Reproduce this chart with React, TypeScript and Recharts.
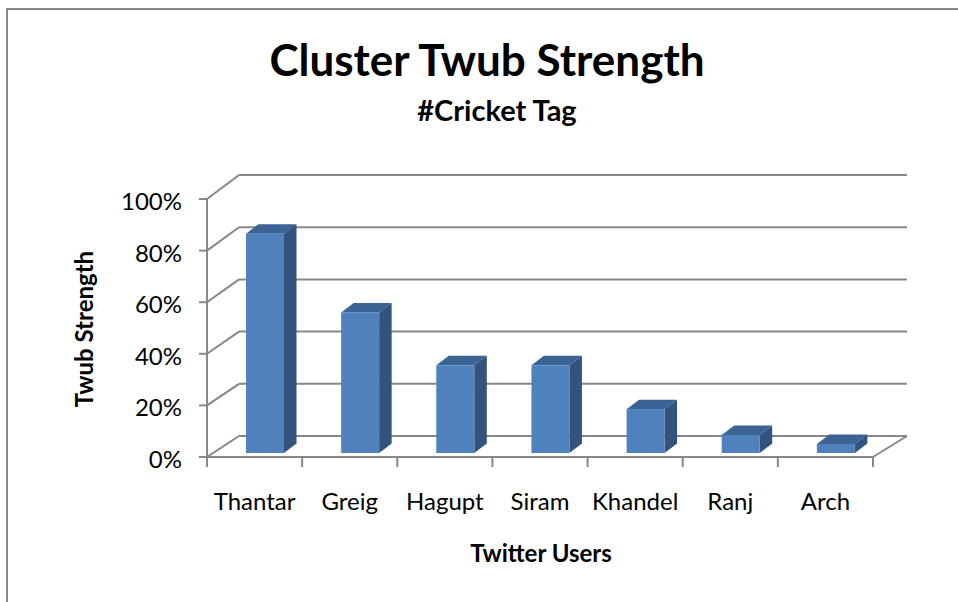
import { Bar, BarChart, CartesianGrid, XAxis, YAxis } from 'recharts'

const categories = ['Thantar', 'Greig', 'Hagupt', 'Siram', 'Khandel', 'Ranj', 'Arch']
const strength = [0.85, 0.545, 0.34, 0.34, 0.17, 0.07, 0.035]
const yTicks = [0, 0.2, 0.4, 0.6, 0.8, 1]

const data = categories.map((name, i) => ({ name, value: strength[i] }))

const W = 958
const H = 602
const FONT = 'Lato, "Open Sans", sans-serif'
const GRID = '#878787'
// front plane of the plot box
const LEFT = 207
const RIGHT = 873
const TOP = 199
const BOTTOM = 457
// depth of the back wall
const DEPTH_X = 32

const pct = (v: number) => `${Math.round(v * 100)}%`

function GridLine(props: any) {
  const { x1, y1, x2, index } = props
  const frac = (BOTTOM - y1) / (BOTTOM - TOP)
  const dy = 21 + 3 * frac
  const bx = x1 + DEPTH_X
  const by = y1 - dy
  const ex = x2 + DEPTH_X + 2
  return (
    <g key={`g-${index}`}>
      <line x1={x1} y1={y1} x2={bx} y2={by} stroke={GRID} strokeWidth={2} />
      <line x1={bx} y1={by} x2={ex} y2={by} stroke={GRID} strokeWidth={2} />
      {frac < 0.01 && <line x1={ex} y1={by} x2={x2} y2={y1} stroke={GRID} strokeWidth={2} />}
    </g>
  )
}

function Bar3D(props: any) {
  const { x, y, width, height } = props
  if (height <= 0) return null
  const fx = x + 10
  const fy = y - 4
  const dx = 12.5
  const dy = 9.5
  return (
    <g>
      <polygon
        points={`${fx},${fy} ${fx + dx},${fy - dy} ${fx + width + dx},${fy - dy} ${fx + width},${fy}`}
        fill="#3b6494"
      />
      <polygon
        points={`${fx + width},${fy} ${fx + width + dx},${fy - dy} ${fx + width + dx},${fy + height - dy} ${fx + width},${fy + height}`}
        fill="#31537e"
      />
      <rect x={fx} y={fy} width={width} height={height} fill="#4f81bd" />
    </g>
  )
}

function XTick(props: any) {
  const { x, y, payload, index } = props
  const step = (RIGHT - LEFT) / categories.length
  const l = x - step / 2
  const r = x + step / 2
  return (
    <g>
      <line x1={l} y1={y} x2={l} y2={y + 10} stroke={GRID} strokeWidth={2} />
      {index === categories.length - 1 && <line x1={r} y1={y} x2={r} y2={y + 10} stroke={GRID} strokeWidth={2} />}
      <text x={x} y={y + 53} textAnchor="middle" fontSize={24} fontFamily={FONT} fill="#000">
        {payload.value}
      </text>
    </g>
  )
}

function YTick(props: any) {
  const { x, y, payload } = props
  return (
    <text x={x} y={y + 11} textAnchor="end" fontSize={24} fontFamily={FONT} fill="#000">
      {pct(payload.value)}
    </text>
  )
}

export default function App() {
  return (
    <div style={{ position: 'absolute', left: 0, top: 0, width: W, height: H, overflow: 'hidden', background: '#fff' }}>
      <div
        style={{
          position: 'absolute',
          left: 6,
          top: 8,
          width: W,
          height: H,
          borderLeft: `2px solid ${GRID}`,
          borderTop: `2px solid ${GRID}`,
        }}
      />
      <BarChart
        width={W}
        height={H}
        data={data}
        margin={{ top: TOP, right: W - RIGHT, bottom: 85, left: LEFT - 100 }}
        barSize={38}
        style={{ position: 'absolute', left: 0, top: 0 }}
      >
        <CartesianGrid vertical={false} horizontal={GridLine} />
        <XAxis
          dataKey="name"
          height={H - BOTTOM - 85}
          axisLine={{ stroke: GRID, strokeWidth: 2 }}
          tickLine={false}
          tickSize={0}
          tickMargin={0}
          interval={0}
          tick={<XTick />}
        />
        <YAxis
          width={100}
          domain={[0, 1]}
          ticks={yTicks}
          axisLine={{ stroke: GRID, strokeWidth: 2 }}
          tickLine={{ stroke: GRID, strokeWidth: 2 }}
          tickSize={8}
          tickMargin={17}
          tick={<YTick />}
        />
        <Bar dataKey="value" shape={<Bar3D />} isAnimationActive={false} />
      </BarChart>
      <svg width={W} height={H} style={{ position: 'absolute', left: 0, top: 0, pointerEvents: 'none' }}>
        <text x={487} y={76} textAnchor="middle" fontSize={44} fontWeight="bold" fontFamily={FONT} fill="#000">
          Cluster Twub Strength
        </text>
        <text x={497} y={121} textAnchor="middle" fontSize={29} fontWeight="bold" fontFamily={FONT} fill="#000">
          #Cricket Tag
        </text>
        <text
          x={0}
          y={0}
          transform="translate(93,329) rotate(-90)"
          textAnchor="middle"
          fontSize={24}
          fontWeight="bold"
          fontFamily={FONT}
          fill="#000"
        >
          Twub Strength
        </text>
        <text x={541} y={562} textAnchor="middle" fontSize={24} fontWeight="bold" fontFamily={FONT} fill="#000">
          Twitter Users
        </text>
      </svg>
    </div>
  )
}
